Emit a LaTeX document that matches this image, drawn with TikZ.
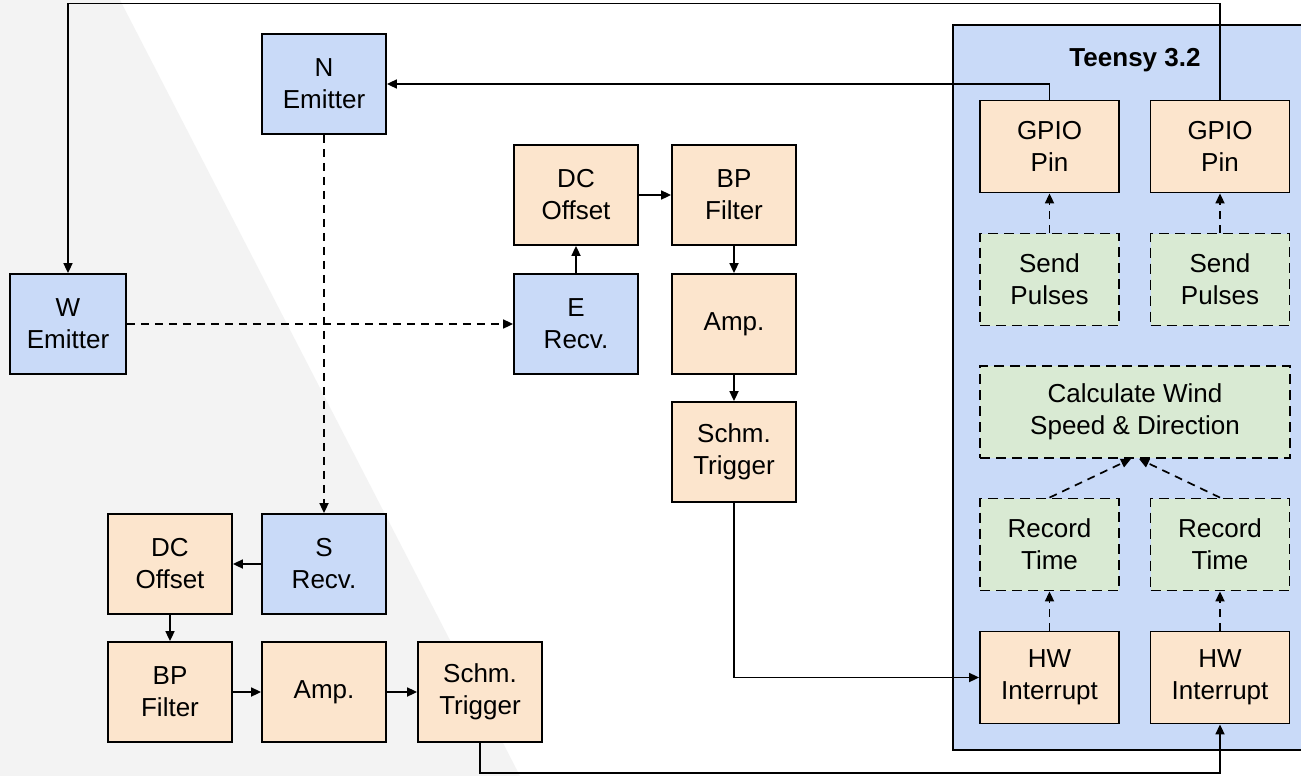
\documentclass[tikz,border=0pt]{standalone}
\usepackage{fontspec}
\setmainfont{Liberation Sans}
\usetikzlibrary{arrows.meta}
\definecolor{bluefill}{HTML}{C9DAF8}
\definecolor{orangefill}{HTML}{FCE5CD}
\definecolor{greenfill}{HTML}{D9EAD3}
\definecolor{bggray}{HTML}{F3F3F3}
\begin{document}
\begin{tikzpicture}[x=1pt,y=-1pt,
  blk/.style={draw=black, line width=1.8pt, inner sep=0pt, align=center,
    font=\fontsize{26pt}{32pt}\selectfont},
  sensor/.style={blk, fill=bluefill, minimum width=124pt, minimum height=100pt},
  stage/.style={blk, fill=orangefill, minimum width=124pt, minimum height=100pt},
  mcu/.style={blk, fill=orangefill, minimum width=139pt, minimum height=92pt},
  task/.style={blk, fill=greenfill, dash pattern=on 10pt off 6pt, minimum width=139pt, minimum height=92pt},
  conn/.style={line width=1.7pt, -{Triangle[length=10pt,width=9pt]}},
  dconn/.style={conn, dash pattern=on 8pt off 6pt}]
  \useasboundingbox (0,0) rectangle (1301,776);
  \clip (0,0) rectangle (1301,776);
  % backdrop
  \fill[white] (0,0) rectangle (1301,776);
  \fill[bggray] (0,0) -- (120,0) -- (520,776) -- (0,776) -- cycle;

  % microcontroller enclosure
  \draw[line width=1.8pt, fill=bluefill] (953,25) rectangle (1310,750);
  \node[font=\bfseries\fontsize{26pt}{32pt}\selectfont] (teensy) at (1135,60) {Teensy 3.2};

  % transducers
  \node[sensor] (n) at (324,84) {N\\Emitter};
  \node[sensor, minimum width=116pt] (w) at (68,324) {W\\Emitter};
  \node[sensor] (er) at (576,324) {E\\Recv.};
  \node[sensor] (sr) at (324,564) {S\\Recv.};

  % east receive chain
  \node[stage] (dce) at (576,195) {DC\\Offset};
  \node[stage] (bpe) at (734,195) {BP\\Filter};
  \node[stage] (ampe) at (734,324) {Amp.};
  \node[stage] (sche) at (734,452) {Schm.\\Trigger};

  % south receive chain
  \node[stage] (dcs) at (170,564) {DC\\Offset};
  \node[stage] (bps) at (170,692) {BP\\Filter};
  \node[stage] (amps) at (324,692) {Amp.};
  \node[stage] (schs) at (480,692) {Schm.\\Trigger};

  % firmware blocks
  \node[mcu] (gpio1) at (1049.5,146.5) {GPIO\\Pin};
  \node[mcu] (gpio2) at (1220,146.5) {GPIO\\Pin};
  \node[task] (send1) at (1049.5,279.5) {Send\\Pulses};
  \node[task] (send2) at (1220,279.5) {Send\\Pulses};
  \node[task, minimum width=310pt] (calc) at (1135,412) {Calculate Wind\\Speed \& Direction};
  \node[task] (rec1) at (1049.5,544.5) {Record\\Time};
  \node[task] (rec2) at (1220,544.5) {Record\\Time};
  \node[mcu] (hw1) at (1049.5,677.5) {HW\\Interrupt};
  \node[mcu] (hw2) at (1220,677.5) {HW\\Interrupt};

  % drive lines to the emitters
  \draw[conn] (gpio1.north) |- (n.east);
  \draw[conn] (gpio2.north) -- ++(0,-96) -| (w.north);

  % acoustic paths
  \draw[dconn] (n.south) -- (sr.north);
  \draw[dconn] (w.east) -- (er.west);

  % east chain
  \draw[conn] (er.north) -- (dce.south);
  \draw[conn] (dce.east) -- (bpe.west);
  \draw[conn] (bpe.south) -- (ampe.north);
  \draw[conn] (ampe.south) -- (sche.north);
  \draw[conn] (sche.south) |- (hw1.west);

  % south chain
  \draw[conn] (sr.west) -- (dcs.east);
  \draw[conn] (dcs.south) -- (bps.north);
  \draw[conn] (bps.east) -- (amps.west);
  \draw[conn] (amps.east) -- (schs.west);
  \draw[conn] (schs.south) -- ++(0,30) -| (hw2.south);

  % firmware flow
  \draw[dconn] (send1.north) -- (gpio1.south);
  \draw[dconn] (send2.north) -- (gpio2.south);
  \draw[dconn] (hw1.north) -- (rec1.south);
  \draw[dconn] (hw2.north) -- (rec2.south);
  \draw[dconn] (rec1.north) -- ([xshift=-4pt]calc.south);
  \draw[dconn] (rec2.north) -- ([xshift=4pt]calc.south);
\end{tikzpicture}
\end{document}
